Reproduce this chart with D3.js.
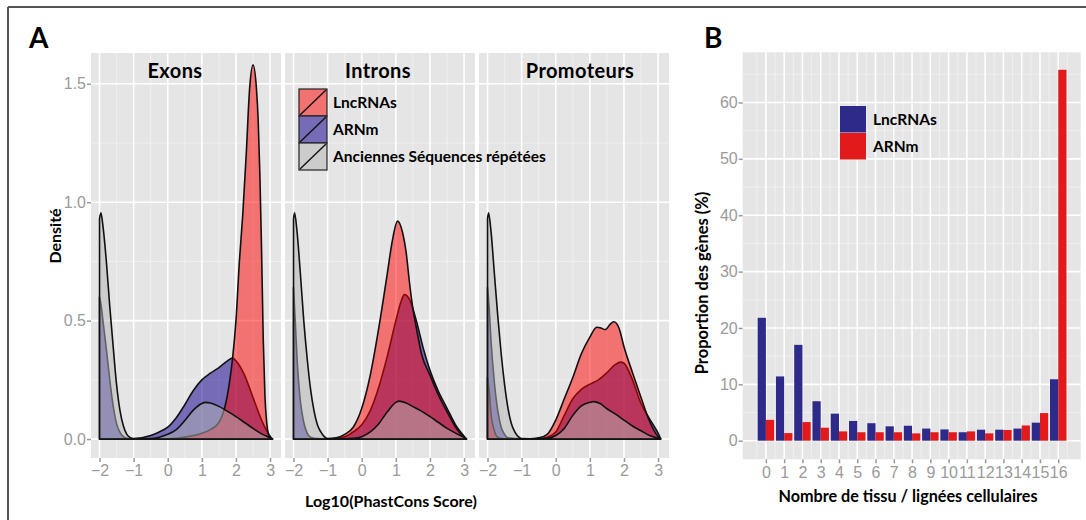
<!DOCTYPE html>
<html>
<head>
<meta charset="utf-8">
<script src="https://cdn.jsdelivr.net/npm/d3@7"></script>
<style>
  body { margin: 0; background: #fff; }
  text { font-family: Lato, "Open Sans", sans-serif; }
  .tick text { font-family: "Liberation Sans", Arial, sans-serif; }
</style>
</head>
<body>
<svg id="chart" width="1086" height="520"></svg>
<script>
// ---- data, panel A: densities of log10(PhastCons score), [x, density] ----
const facets = ["Exons", "Introns", "Promoteurs"];
const groups = ["LncRNAs", "ARNm", "Anciennes Séquences répétées"];

const exonsLnc = [[-2,0],[-1,0],[0,0.001],[0.25,0.003],[0.5,0.008],[0.75,0.015],[1.0,0.025],[1.25,0.04],[1.5,0.07],[1.6,0.1],[1.7,0.15],[1.8,0.23],[1.9,0.34],[2.0,0.5],[2.1,0.75],[2.2,0.95],[2.3,1.2],[2.4,1.48],[2.5,1.58],[2.6,1.48],[2.65,1.35],[2.7,1.12],[2.75,0.8],[2.8,0.42],[2.85,0.18],[2.9,0.07],[2.95,0.02],[3.0,0.003],[3.07,0]];
const exonsArnm = [[-2,0.6],[-1.95,0.56],[-1.9,0.5],[-1.8,0.38],[-1.7,0.25],[-1.6,0.14],[-1.5,0.065],[-1.4,0.028],[-1.3,0.01],[-1.2,0.003],[-1,0.002],[-0.5,0.015],[-0.25,0.03],[0,0.05],[0.25,0.09],[0.5,0.145],[0.75,0.205],[1.0,0.25],[1.25,0.278],[1.5,0.302],[1.75,0.33],[1.9,0.342],[2.0,0.33],[2.25,0.27],[2.5,0.175],[2.75,0.08],[2.9,0.035],[3.0,0.012],[3.07,0]];
const exonsRep = [[-2,0.93],[-1.96,0.955],[-1.9,0.9],[-1.8,0.75],[-1.7,0.56],[-1.6,0.39],[-1.5,0.23],[-1.4,0.12],[-1.3,0.055],[-1.2,0.02],[-1.1,0.006],[-1.0,0.001],[-0.5,0.002],[-0.25,0.008],[0,0.02],[0.25,0.04],[0.5,0.078],[0.75,0.122],[1.0,0.15],[1.1,0.155],[1.25,0.152],[1.5,0.138],[1.75,0.117],[2.0,0.095],[2.25,0.07],[2.5,0.045],[2.75,0.022],[3.0,0.005],[3.07,0]];

const intronsLnc = [[-2,0],[-1,0.001],[-0.75,0.005],[-0.5,0.02],[-0.25,0.05],[0,0.13],[0.25,0.27],[0.5,0.47],[0.75,0.7],[0.9,0.84],[1.05,0.92],[1.2,0.87],[1.3,0.79],[1.4,0.66],[1.5,0.55],[1.6,0.47],[1.75,0.36],[2.0,0.27],[2.25,0.185],[2.5,0.115],[2.75,0.05],[3.0,0.008],[3.07,0]];
const intronsArnm = [[-2,0.64],[-1.95,0.5],[-1.9,0.35],[-1.85,0.24],[-1.8,0.16],[-1.7,0.07],[-1.6,0.025],[-1.5,0.008],[-1.3,0.002],[-1,0.001],[-0.5,0.01],[-0.25,0.03],[0,0.06],[0.25,0.12],[0.5,0.22],[0.75,0.35],[1.0,0.5],[1.15,0.58],[1.25,0.61],[1.4,0.59],[1.6,0.5],[1.8,0.385],[2.0,0.29],[2.25,0.2],[2.5,0.13],[2.75,0.06],[3.0,0.012],[3.07,0]];
const intronsRep = [[-2,0.93],[-1.97,0.955],[-1.9,0.88],[-1.8,0.7],[-1.7,0.5],[-1.6,0.34],[-1.5,0.21],[-1.4,0.12],[-1.3,0.06],[-1.2,0.03],[-1.1,0.01],[-1.0,0.002],[-0.5,0.001],[-0.25,0.003],[0,0.01],[0.25,0.03],[0.5,0.065],[0.75,0.115],[1.0,0.155],[1.1,0.16],[1.3,0.152],[1.5,0.137],[1.75,0.118],[2.0,0.095],[2.25,0.07],[2.5,0.045],[2.75,0.025],[3.0,0.007],[3.07,0]];

const promLnc = [[-2,0.26],[-1.95,0.2],[-1.9,0.11],[-1.8,0.035],[-1.7,0.008],[-1.5,0],[-0.75,0.001],[-0.5,0.005],[-0.25,0.02],[0,0.08],[0.25,0.17],[0.5,0.26],[0.75,0.36],[1.0,0.43],[1.2,0.472],[1.3,0.47],[1.45,0.462],[1.6,0.485],[1.7,0.495],[1.85,0.47],[2.0,0.39],[2.25,0.28],[2.5,0.175],[2.75,0.075],[3.0,0.01],[3.07,0]];
const promArnm = [[-2,0.64],[-1.95,0.55],[-1.9,0.42],[-1.8,0.24],[-1.7,0.12],[-1.6,0.05],[-1.5,0.02],[-1.4,0.005],[-1,0.001],[-0.5,0.002],[-0.25,0.008],[0,0.03],[0.25,0.1],[0.5,0.17],[0.75,0.21],[1.0,0.232],[1.25,0.25],[1.5,0.28],[1.75,0.315],[1.9,0.325],[2.0,0.32],[2.25,0.25],[2.5,0.15],[2.75,0.085],[3.0,0.025],[3.08,0]];
const promRep = [[-2,0.93],[-1.97,0.955],[-1.9,0.88],[-1.8,0.7],[-1.7,0.52],[-1.6,0.36],[-1.5,0.23],[-1.4,0.13],[-1.3,0.065],[-1.2,0.03],[-1.1,0.01],[-1.0,0.002],[-0.5,0.001],[-0.25,0.003],[0,0.015],[0.25,0.045],[0.5,0.1],[0.75,0.14],[1.0,0.155],[1.1,0.158],[1.3,0.15],[1.5,0.128],[1.75,0.105],[2.0,0.08],[2.25,0.055],[2.5,0.035],[2.75,0.015],[3.0,0.003],[3.07,0]];

// ---- data, panel B: proportion of genes (%) by number of tissues ----
const tissues = d3.range(0, 17);
const lncPct  = [21.8, 11.4, 17.0, 7.0, 4.8, 3.5, 3.1, 2.55, 2.65, 2.15, 2.0, 1.5, 1.95, 1.95, 2.15, 3.2, 10.9];
const arnmPct = [3.7, 1.35, 3.3, 2.3, 1.65, 1.5, 1.5, 1.5, 1.3, 1.5, 1.5, 1.65, 1.3, 1.9, 2.7, 4.9, 65.8];

// ---- style ----
const bg = "#e5e5e5";
const fillA = { "LncRNAs": "#ff0000", "ARNm": "#1a0890", "Anciennes Séquences répétées": "#b4b4b4" };
const opacityA = { "LncRNAs": 0.5, "ARNm": 0.55, "Anciennes Séquences répétées": 0.5 };
const fillB = { "LncRNAs": "#2e2a8a", "ARNm": "#e31a1c" };
const tickCol = "#9a9a9a";

const svg = d3.select("#chart");

// outer frame (top and left)
svg.append("line").attr("x1", 8).attr("y1", 7).attr("x2", 1086).attr("y2", 7)
  .attr("stroke", "#555").attr("stroke-width", 2);
svg.append("line").attr("x1", 8).attr("y1", 7).attr("x2", 8).attr("y2", 520)
  .attr("stroke", "#555").attr("stroke-width", 2);

svg.append("text").attr("x", 29).attr("y", 48).text("A")
  .style("font-size", "28px").style("font-weight", 700);
svg.append("text").attr("x", 704).attr("y", 48).text("B")
  .style("font-size", "28px").style("font-weight", 700);

// ================= Panel A =================
const facetX = [91, 285, 479];
const facetW = 190;
const stripX = [175, 378, 580];
const xA = d3.scaleLinear().domain([-2.25, 3.32]).range([0, facetW]);
const yA = d3.scaleLinear().domain([-0.08, 1.63]).range([458, 53]);

const facetData = [
  { "LncRNAs": exonsLnc, "ARNm": exonsArnm, "Anciennes Séquences répétées": exonsRep },
  { "LncRNAs": intronsLnc, "ARNm": intronsArnm, "Anciennes Séquences répétées": intronsRep },
  { "LncRNAs": promLnc, "ARNm": promArnm, "Anciennes Séquences répétées": promRep }
];
const drawOrder = ["ARNm", "LncRNAs", "Anciennes Séquences répétées"];

const area = d3.area()
  .curve(d3.curveMonotoneX)
  .x(d => xA(d[0]))
  .y0(yA(0))
  .y1(d => yA(d[1]));

facets.forEach((name, i) => {
  const g = svg.append("g").attr("transform", `translate(${facetX[i]},0)`);
  g.append("rect").attr("x", 0).attr("y", yA.range()[1])
    .attr("width", facetW).attr("height", yA.range()[0] - yA.range()[1]).attr("fill", bg);

  [0.25, 0.75, 1.25].forEach(v => g.append("line")
    .attr("x1", 0).attr("x2", facetW).attr("y1", yA(v)).attr("y2", yA(v))
    .attr("stroke", "#f2f2f2").attr("stroke-width", 0.8));
  [-1.5, -0.5, 0.5, 1.5, 2.5].forEach(v => g.append("line")
    .attr("x1", xA(v)).attr("x2", xA(v)).attr("y1", yA.range()[1]).attr("y2", yA.range()[0])
    .attr("stroke", "#f2f2f2").attr("stroke-width", 0.8));
  [0, 0.5, 1, 1.5].forEach(v => g.append("line")
    .attr("x1", 0).attr("x2", facetW).attr("y1", yA(v)).attr("y2", yA(v))
    .attr("stroke", "#fff").attr("stroke-width", 1.6));
  [-2, -1, 0, 1, 2, 3].forEach(v => g.append("line")
    .attr("x1", xA(v)).attr("x2", xA(v)).attr("y1", yA.range()[1]).attr("y2", yA.range()[0])
    .attr("stroke", "#fff").attr("stroke-width", 1.6));

  drawOrder.forEach(k => {
    g.append("path")
      .datum(facetData[i][k])
      .attr("d", area)
      .attr("fill", fillA[k])
      .attr("fill-opacity", opacityA[k])
      .attr("stroke", "#111")
      .attr("stroke-width", 1.6)
      .attr("stroke-linejoin", "round");
  });

  svg.append("text").attr("x", stripX[i]).attr("y", 78).attr("text-anchor", "middle")
    .text(name).style("font-size", "20px").style("font-weight", 700)
    .style("letter-spacing", "0.4px");

  const ax = g.append("g").attr("transform", `translate(0,${yA.range()[0]})`)
    .call(d3.axisBottom(xA).tickValues([-2, -1, 0, 1, 2, 3]).tickFormat(d3.format("d"))
      .tickSize(4).tickPadding(3));
  ax.select(".domain").remove();
  ax.selectAll("line").attr("stroke", tickCol).attr("stroke-width", 1.5);
  ax.selectAll("text").attr("fill", tickCol).style("font-size", "16px");
});

const ayA = svg.append("g").attr("transform", `translate(${facetX[0]},0)`)
  .call(d3.axisLeft(yA).tickValues([0, 0.5, 1, 1.5]).tickFormat(d3.format(".1f"))
    .tickSize(4).tickPadding(1));
ayA.select(".domain").remove();
ayA.selectAll("line").attr("stroke", tickCol).attr("stroke-width", 1.5);
ayA.selectAll("text").attr("fill", tickCol).style("font-size", "16px");

svg.append("text").attr("transform", "translate(61,236) rotate(-90)")
  .attr("text-anchor", "middle").text("Densité")
  .style("font-size", "16px").style("font-weight", 700);
svg.append("text").attr("x", 391).attr("y", 507).attr("text-anchor", "middle")
  .text("Log10(PhastCons Score)").style("font-size", "16px").style("font-weight", 700);

// legend A
const legA = svg.append("g").attr("transform", "translate(299,89)");
groups.forEach((k, j) => {
  const row = legA.append("g").attr("transform", `translate(0,${j * 27})`);
  row.append("rect").attr("width", 28).attr("height", 27).attr("fill", bg);
  row.append("rect").attr("width", 28).attr("height", 27)
    .attr("fill", fillA[k]).attr("fill-opacity", opacityA[k])
    .attr("stroke", "#222").attr("stroke-width", 1.2);
  row.append("line").attr("x1", 1).attr("y1", 26).attr("x2", 27).attr("y2", 1)
    .attr("stroke", "#111").attr("stroke-width", 1.4);
  row.append("text").attr("x", 34).attr("y", 14).attr("dy", "0.35em")
    .text(k).style("font-size", "15.5px").style("font-weight", 700);
});

// ================= Panel B =================
const xB = d3.scaleLinear().domain([-1.27, 17.23]).range([742.7, 1080.7]);
const yB = d3.scaleLinear().domain([-3.3, 68.9]).range([459.3, 52.3]);
const gB = svg.append("g");
gB.append("rect").attr("x", xB.range()[0]).attr("y", yB.range()[1])
  .attr("width", xB.range()[1] - xB.range()[0]).attr("height", yB.range()[0] - yB.range()[1])
  .attr("fill", bg);

[5, 15, 25, 35, 45, 55, 65].forEach(v => gB.append("line")
  .attr("x1", xB.range()[0]).attr("x2", xB.range()[1]).attr("y1", yB(v)).attr("y2", yB(v))
  .attr("stroke", "#f2f2f2").attr("stroke-width", 0.8));
d3.range(-0.5, 17, 1).forEach(v => gB.append("line")
  .attr("x1", xB(v)).attr("x2", xB(v)).attr("y1", yB.range()[1]).attr("y2", yB.range()[0])
  .attr("stroke", "#f2f2f2").attr("stroke-width", 0.8));
[0, 10, 20, 30, 40, 50, 60].forEach(v => gB.append("line")
  .attr("x1", xB.range()[0]).attr("x2", xB.range()[1]).attr("y1", yB(v)).attr("y2", yB(v))
  .attr("stroke", "#fff").attr("stroke-width", 1.6));
tissues.forEach(v => gB.append("line")
  .attr("x1", xB(v)).attr("x2", xB(v)).attr("y1", yB.range()[1]).attr("y2", yB.range()[0])
  .attr("stroke", "#fff").attr("stroke-width", 1.6));

const barW = 0.45;
gB.selectAll(".barL").data(tissues).join("rect")
  .attr("x", d => xB(d - barW)).attr("width", xB(barW) - xB(0))
  .attr("y", d => yB(lncPct[d])).attr("height", d => yB(0) - yB(lncPct[d]))
  .attr("fill", fillB["LncRNAs"]);
gB.selectAll(".barA").data(tissues).join("rect")
  .attr("x", d => xB(d)).attr("width", xB(barW) - xB(0))
  .attr("y", d => yB(arnmPct[d])).attr("height", d => yB(0) - yB(arnmPct[d]))
  .attr("fill", fillB["ARNm"]);

const axB = gB.append("g").attr("transform", `translate(0,${yB.range()[0]})`)
  .call(d3.axisBottom(xB).tickValues(tissues).tickFormat(d3.format("d")).tickSize(4).tickPadding(3));
axB.select(".domain").remove();
axB.selectAll("line").attr("stroke", tickCol).attr("stroke-width", 1.5);
axB.selectAll("text").attr("fill", tickCol).style("font-size", "16px");

const ayB = gB.append("g").attr("transform", `translate(${xB.range()[0]},0)`)
  .call(d3.axisLeft(yB).tickValues([0, 10, 20, 30, 40, 50, 60]).tickSize(4).tickPadding(1));
ayB.select(".domain").remove();
ayB.selectAll("line").attr("stroke", tickCol).attr("stroke-width", 1.5);
ayB.selectAll("text").attr("fill", tickCol).style("font-size", "16px");

svg.append("text").attr("transform", "translate(708,283) rotate(-90)")
  .attr("text-anchor", "middle").text("Proportion des gènes (%)")
  .style("font-size", "16.5px").style("font-weight", 700);
svg.append("text").attr("x", 908).attr("y", 502).attr("text-anchor", "middle")
  .text("Nombre de tissu / lignées cellulaires").style("font-size", "16.2px").style("font-weight", 700);

// legend B
const legB = svg.append("g").attr("transform", "translate(840,106)");
["LncRNAs", "ARNm"].forEach((k, j) => {
  const row = legB.append("g").attr("transform", `translate(0,${j * 27})`);
  row.append("rect").attr("width", 26).attr("height", 26.5).attr("fill", fillB[k]);
  row.append("text").attr("x", 33).attr("y", 14).attr("dy", "0.35em")
    .text(k).style("font-size", "15.5px").style("font-weight", 700);
});
</script>
</body>
</html>
